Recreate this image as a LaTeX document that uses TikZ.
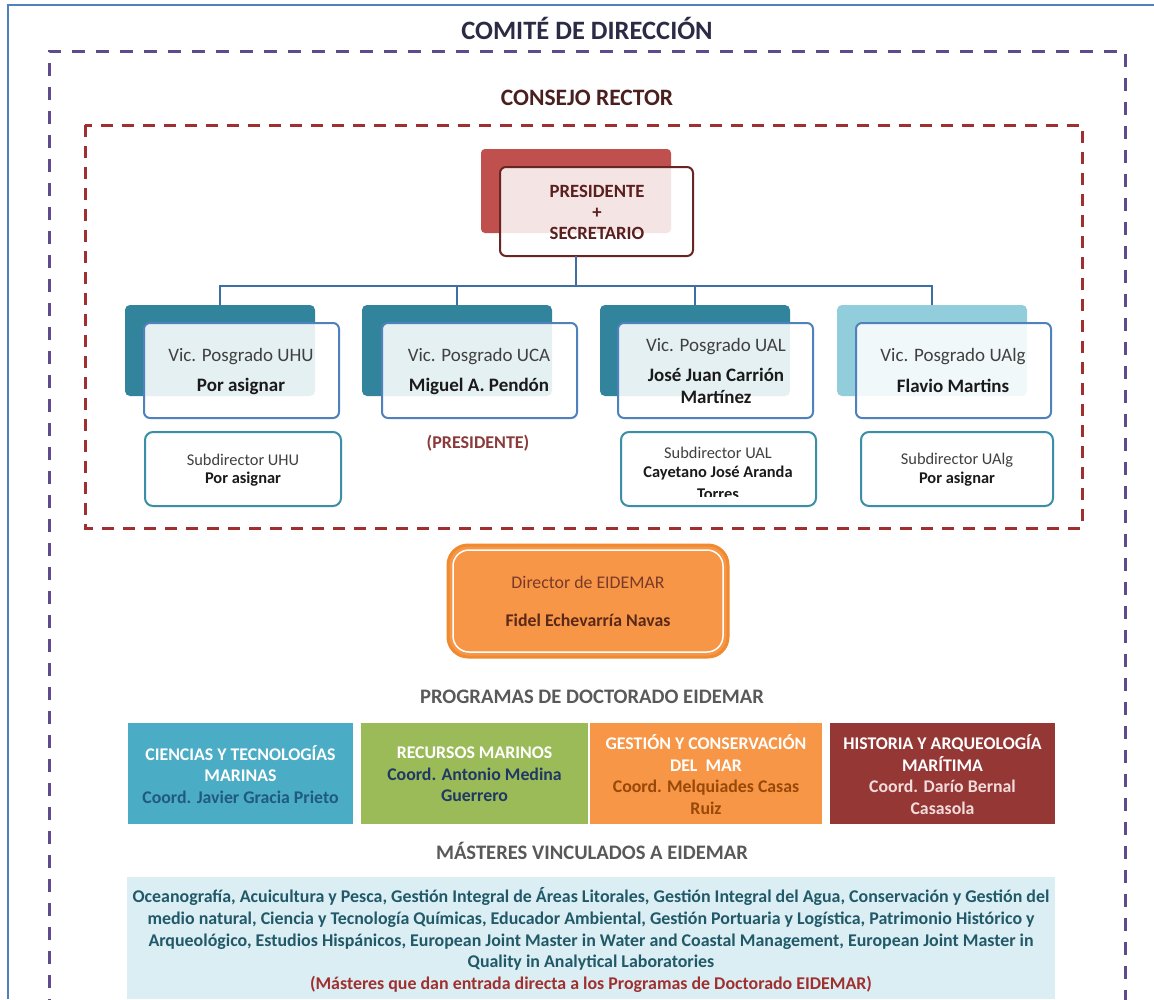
\documentclass[tikz,border=0pt]{standalone}
\usepackage{fontspec}
\setmainfont{Carlito}
\usetikzlibrary{calc}
\definecolor{bordblue}{HTML}{4F81BD}
\definecolor{purp}{HTML}{5F4B8B}
\definecolor{dred}{HTML}{A0302F}
\definecolor{titc}{HTML}{2B2B45}
\definecolor{consc}{HTML}{4A1F1F}
\definecolor{presred}{HTML}{C0504D}
\definecolor{presdk}{HTML}{6B2424}
\definecolor{prestx}{HTML}{5A1F1F}
\definecolor{connc}{HTML}{3B6FA5}
\definecolor{tealdk}{HTML}{31849B}
\definecolor{teallt}{HTML}{92CDDC}
\definecolor{frontb}{HTML}{4F81BD}
\definecolor{subb}{HTML}{3A8FA6}
\definecolor{graytx}{HTML}{404040}
\definecolor{blk}{HTML}{1A1A1A}
\definecolor{presl}{HTML}{8B3A3A}
\definecolor{orng}{HTML}{F79646}
\definecolor{orngdk}{HTML}{F08A30}
\definecolor{dirtx}{HTML}{7A3A2A}
\definecolor{dirnm}{HTML}{5A2818}
\definecolor{headg}{HTML}{595959}
\definecolor{pblue}{HTML}{4BACC6}
\definecolor{pgreen}{HTML}{9BBB59}
\definecolor{pred}{HTML}{953735}
\definecolor{coordA}{HTML}{215A7F}
\definecolor{coordB}{HTML}{1F3864}
\definecolor{coordC}{HTML}{984807}
\definecolor{coordD}{HTML}{F2DCDB}
\definecolor{mastbg}{HTML}{DBEEF4}
\definecolor{masttx}{HTML}{215968}
\definecolor{mastred}{HTML}{A0302F}
\newcommand{\fsz}[2]{\fontsize{#1pt}{#2pt}\selectfont}
\tikzset{
  box/.style={anchor=north west, inner sep=0pt, outer sep=0pt},
  vback/.style={box, rounded corners=5pt, minimum width=190pt, minimum height=91pt},
  vfront/.style={box, draw=frontb, line width=2pt, fill=white, fill opacity=0.88, rounded corners=6pt, minimum width=195pt, minimum height=95pt},
  subbox/.style={box, draw=subb, line width=2pt, fill=white, rounded corners=8pt, minimum height=74pt},
  vtitle/.style={font=\fsz{19}{22}, text=graytx},
  vname/.style={font=\fsz{19}{22}\bfseries, text=blk, align=center},
  stitle/.style={font=\fsz{16.4}{19}, text=graytx},
  sname/.style={font=\fsz{16.4}{19}\bfseries, text=blk},
  prog/.style={box, minimum height=101pt},
  progtx/.style={align=center, font=\fsz{17.8}{21.5}\bfseries, text=white},
  conn/.style={draw=connc, line width=2pt},
  heading/.style={font=\fsz{20.6}{24}\bfseries, text=headg},
}
\begin{document}
\begin{tikzpicture}[x=1pt,y=-1pt]
\useasboundingbox (0,0) rectangle (1154,999);
\fill[white] (0,0) rectangle (1154,999);
% outer page border
\draw[bordblue, line width=2pt] (8,999) -- (8,5) -- (1154,5);
% frames
\draw[purp, line width=3pt, dash pattern=on 13pt off 11pt] (49,1012) -- (49,51) -- (1125,51) -- (1125,1012);
\draw[dred, line width=3pt, dash pattern=on 12pt off 9pt] (85,125) rectangle (1082,528);
% headings
\node[font=\fsz{26.5}{30}\bfseries, text=titc] (tcomite) at (587,28) {COMITÉ DE DIRECCIÓN};
\node[font=\fsz{23.5}{27}\bfseries, text=consc] (tconsejo) at (587,98) {CONSEJO RECTOR};
% president
\node[box, fill=presred, rounded corners=4pt, minimum width=190pt, minimum height=84pt] (presb) at (481,149) {};
\node[box, draw=presdk, line width=2pt, fill=white, fill opacity=0.85, rounded corners=6pt, minimum width=193pt, minimum height=89pt] (pres) at (500,167) {};
\node[align=center, font=\fsz{18.7}{21}\bfseries, text=prestx] (prest) at (597,212) {PRESIDENTE\\+\\SECRETARIO};
% vic boxes
\node[vback, fill=tealdk] (v1b) at (125,305) {};
\node[vback, fill=tealdk] (v2b) at (362,305) {};
\node[vback, fill=tealdk] (v3b) at (600,305) {};
\node[vback, fill=teallt] (v4b) at (837,305) {};
\node[vfront] (v1) at (144,323) {};
\node[vfront] (v2) at (382,323) {};
\node[vfront] (v3) at (618,323) {};
\node[vfront] (v4) at (856,323) {};
% connectors
\coordinate (hub) at (576,286);
\draw[conn] (pres.south -| hub) -- (hub);
\draw[conn] (v1b.north) -- (v1b.north |- hub) -- (v4b.north |- hub) -- (v4b.north);
\draw[conn] (v2b.north) -- (v2b.north |- hub);
\draw[conn] (v3b.north) -- (v3b.north |- hub);
% vic texts
\node[vtitle] (v1t) at (241,357) {Vic. Posgrado UHU};
\node[vname] (v1n) at (241,386) {Por asignar};
\node[vtitle] (v2t) at (479,357) {Vic. Posgrado UCA};
\node[vname] (v2n) at (479,386) {Miguel A. Pendón};
\node[vtitle] (v3t) at (716,347) {Vic. Posgrado UAL};
\node[vname] (v3n) at (716,386) {José Juan Carrión\\Martínez};
\node[vtitle] (v4t) at (953,357) {Vic. Posgrado UAlg};
\node[vname] (v4n) at (953,386) {Flavio Martins};
\node[font=\fsz{18}{20}\bfseries, text=presl] (presl) at (478,443) {(PRESIDENTE)};
% subdirectors
\node[subbox, minimum width=196pt] (s1) at (145,432) {};
\node[subbox, minimum width=195pt] (s3) at (621,432) {};
\node[subbox, minimum width=192pt] (s4) at (861,432) {};
\node[stitle] (s1t) at (243,460) {Subdirector UHU};
\node[sname] (s1n) at (243,479) {Por asignar};
\node[stitle] (s3t) at (718,453) {Subdirector UAL};
\node[sname] (s3n) at (718,473) {Cayetano José Aranda};
\begin{scope}
\clip (621,432) rectangle (816,496);
\node[sname] (s3m) at (718,494) {Torres};
\end{scope}
\node[stitle] (s4t) at (957,460) {Subdirector UAlg};
\node[sname] (s4n) at (957,479) {Por asignar};
% director
\node[box, fill=orng, draw=orngdk, line width=3pt, rounded corners=20pt, minimum width=280pt, minimum height=112pt] (dir) at (448,545) {};
\draw[white, line width=1.5pt, rounded corners=16pt] ($(dir.north west)+(5,5)$) rectangle ($(dir.south east)+(-5,-5)$);
\node[font=\fsz{17.8}{20}, text=dirtx] (dirt) at (588,582) {Director de EIDEMAR};
\node[font=\fsz{17.8}{20}\bfseries, text=dirnm] (dirn) at (588,620) {Fidel Echevarría Navas};
% programs
\node[heading] (tprog) at (592,697) {PROGRAMAS DE DOCTORADO EIDEMAR};
\node[prog, fill=pblue, minimum width=225pt] (p1) at (128,723) {};
\node[prog, fill=pgreen, minimum width=227pt] (p2) at (361,723) {};
\node[prog, fill=orng, minimum width=232pt] (p3) at (590,723) {};
\node[prog, fill=pred, minimum width=225pt] (p4) at (830,723) {};
\node[progtx] (p1t) at ($(p1.center)+(0,1)$) {CIENCIAS Y TECNOLOGÍAS\\MARINAS\\\textcolor{coordA}{Coord. Javier Gracia Prieto}};
\node[progtx] (p2t) at ($(p2.center)+(0,1)$) {RECURSOS MARINOS\\\textcolor{coordB}{Coord. Antonio Medina}\\\textcolor{coordB}{Guerrero}};
\node[progtx] (p3t) at ($(p3.center)+(0,1)$) {GESTIÓN Y CONSERVACIÓN\\DEL\ \ MAR\\\textcolor{coordC}{Coord. Melquiades Casas}\\\textcolor{coordC}{Ruiz}};
\node[progtx] (p4t) at ($(p4.center)+(0,1)$) {HISTORIA Y ARQUEOLOGÍA\\MARÍTIMA\\\textcolor{coordD}{Coord. Darío Bernal}\\\textcolor{coordD}{Casasola}};
% masters
\node[heading] (tmast) at (592,851) {MÁSTERES VINCULADOS A EIDEMAR};
\node[box, fill=mastbg, minimum width=928pt, minimum height=122pt] (mast) at (127,877) {};
\node[align=center, font=\fsz{17.9}{21.6}\bfseries, text=masttx] (mastt) at (591,940) {Oceanografía, Acuicultura y Pesca, Gestión Integral de Áreas Litorales, Gestión Integral del Agua, Conservación y Gestión del\\medio natural, Ciencia y Tecnología Químicas, Educador Ambiental, Gestión Portuaria y Logística, Patrimonio Histórico y\\Arqueológico, Estudios Hispánicos, European Joint Master in Water and Coastal Management, European Joint Master in\\Quality in Analytical Laboratories\\\textcolor{mastred}{(Másteres que dan entrada directa a los Programas de Doctorado EIDEMAR)}};
\end{tikzpicture}
\end{document}
